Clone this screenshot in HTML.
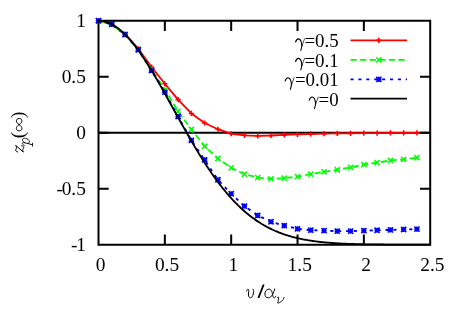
<!DOCTYPE html>
<html><head><meta charset="utf-8"><title>plot</title>
<style>html,body{margin:0;padding:0;background:#fff}svg{display:block}</style>
</head><body>
<svg width="463" height="322" viewBox="0 0 463 322">
<rect width="463" height="322" fill="#fff"/>
<g fill="none" stroke-linecap="butt" stroke-linejoin="round">
<path d="M98.50 132.78H430.20" stroke="#000" stroke-width="1.85"/>
<polyline points="98.50,20.75 111.77,24.22 125.04,34.19 138.30,48.74 151.57,67.00 164.84,83.79 178.11,99.58 191.38,113.47 204.64,122.98 217.91,129.25 231.18,133.73 244.45,135.30 257.72,135.86 270.98,135.52 284.25,134.85 297.52,134.29 310.79,133.96 324.06,133.62 337.32,133.40 350.59,133.28 363.86,133.17 377.13,133.06 390.40,132.95 403.66,132.95 416.93,132.84" stroke="#f00" stroke-width="1.85"/>
<path d="M95.90 20.75H101.10M98.50 18.15V23.35M109.17 24.22H114.37M111.77 21.62V26.82M122.44 34.19H127.64M125.04 31.59V36.79M135.70 48.74H140.90M138.30 46.14V51.34M148.97 67.00H154.17M151.57 64.40V69.60M162.24 83.79H167.44M164.84 81.19V86.39M175.51 99.58H180.71M178.11 96.98V102.18M188.78 113.47H193.98M191.38 110.87V116.07M202.04 122.98H207.24M204.64 120.38V125.58M215.31 129.25H220.51M217.91 126.65V131.85M228.58 133.73H233.78M231.18 131.13V136.33M241.85 135.30H247.05M244.45 132.70V137.90M255.12 135.86H260.32M257.72 133.26V138.46M268.38 135.52H273.58M270.98 132.92V138.12M281.65 134.85H286.85M284.25 132.25V137.45M294.92 134.29H300.12M297.52 131.69V136.89M308.19 133.96H313.39M310.79 131.36V136.56M321.46 133.62H326.66M324.06 131.02V136.22M334.72 133.40H339.92M337.32 130.80V136.00M347.99 133.28H353.19M350.59 130.68V135.88M361.26 133.17H366.46M363.86 130.57V135.77M374.53 133.06H379.73M377.13 130.46V135.66M387.80 132.95H393.00M390.40 130.35V135.55M401.06 132.95H406.26M403.66 130.35V135.55M414.33 132.84H419.53M416.93 130.24V135.44" stroke="#f00" stroke-width="1.6"/>
<polyline points="98.50,20.75 111.77,24.33 125.04,34.52 138.30,49.53 151.57,69.46 164.84,89.61 178.11,111.34 191.38,129.37 204.64,146.27 217.91,158.48 231.18,167.89 244.45,174.16 257.72,177.63 270.98,178.86 284.25,178.19 297.52,176.62 310.79,174.16 324.06,171.80 337.32,169.79 350.59,167.44 363.86,164.64 377.13,162.62 390.40,160.49 403.66,159.32 416.93,157.70" stroke="#0f0" stroke-width="1.85" stroke-dasharray="6.2 3.4"/>
<path d="M95.90 18.15L101.10 23.35M95.90 23.35L101.10 18.15M109.17 21.73L114.37 26.93M109.17 26.93L114.37 21.73M122.44 31.92L127.64 37.12M122.44 37.12L127.64 31.92M135.70 46.93L140.90 52.13M135.70 52.13L140.90 46.93M148.97 66.86L154.17 72.06M148.97 72.06L154.17 66.86M162.24 87.01L167.44 92.21M162.24 92.21L167.44 87.01M175.51 108.74L180.71 113.94M175.51 113.94L180.71 108.74M188.78 126.77L193.98 131.97M188.78 131.97L193.98 126.77M202.04 143.67L207.24 148.87M202.04 148.87L207.24 143.67M215.31 155.88L220.51 161.08M215.31 161.08L220.51 155.88M228.58 165.29L233.78 170.49M228.58 170.49L233.78 165.29M241.85 171.56L247.05 176.76M241.85 176.76L247.05 171.56M255.12 175.03L260.32 180.23M255.12 180.23L260.32 175.03M268.38 176.26L273.58 181.46M268.38 181.46L273.58 176.26M281.65 175.59L286.85 180.79M281.65 180.79L286.85 175.59M294.92 174.02L300.12 179.22M294.92 179.22L300.12 174.02M308.19 171.56L313.39 176.76M308.19 176.76L313.39 171.56M321.46 169.20L326.66 174.40M321.46 174.40L326.66 169.20M334.72 167.19L339.92 172.39M334.72 172.39L339.92 167.19M347.99 164.84L353.19 170.04M347.99 170.04L353.19 164.84M361.26 162.04L366.46 167.24M361.26 167.24L366.46 162.04M374.53 160.02L379.73 165.22M374.53 165.22L379.73 160.02M387.80 157.89L393.00 163.09M387.80 163.09L393.00 157.89M401.06 156.72L406.26 161.92M401.06 161.92L406.26 156.72M414.33 155.10L419.53 160.30M414.33 160.30L419.53 155.10" stroke="#0f0" stroke-width="1.6"/>
<polyline points="98.50,20.75 111.77,24.33 125.04,34.63 138.30,49.75 151.57,70.47 164.84,92.19 178.11,116.49 191.38,140.34 204.64,159.93 217.91,179.75 231.18,193.75 244.45,206.18 257.72,215.47 270.98,221.75 284.25,225.66 297.52,228.80 310.79,230.14 324.06,230.70 337.32,231.15 350.59,231.15 363.86,230.70 377.13,230.26 390.40,229.92 403.66,229.47 416.93,229.14" stroke="#00f" stroke-width="1.85" stroke-dasharray="3.1 4.8"/>
<path d="M95.90 20.75H101.10M98.50 18.15V23.35M95.90 18.15L101.10 23.35M95.90 23.35L101.10 18.15M109.17 24.33H114.37M111.77 21.73V26.93M109.17 21.73L114.37 26.93M109.17 26.93L114.37 21.73M122.44 34.63H127.64M125.04 32.03V37.23M122.44 32.03L127.64 37.23M122.44 37.23L127.64 32.03M135.70 49.75H140.90M138.30 47.15V52.35M135.70 47.15L140.90 52.35M135.70 52.35L140.90 47.15M148.97 70.47H154.17M151.57 67.87V73.07M148.97 67.87L154.17 73.07M148.97 73.07L154.17 67.87M162.24 92.19H167.44M164.84 89.59V94.79M162.24 89.59L167.44 94.79M162.24 94.79L167.44 89.59M175.51 116.49H180.71M178.11 113.89V119.09M175.51 113.89L180.71 119.09M175.51 119.09L180.71 113.89M188.78 140.34H193.98M191.38 137.74V142.94M188.78 137.74L193.98 142.94M188.78 142.94L193.98 137.74M202.04 159.93H207.24M204.64 157.33V162.53M202.04 157.33L207.24 162.53M202.04 162.53L207.24 157.33M215.31 179.75H220.51M217.91 177.15V182.35M215.31 177.15L220.51 182.35M215.31 182.35L220.51 177.15M228.58 193.75H233.78M231.18 191.15V196.35M228.58 191.15L233.78 196.35M228.58 196.35L233.78 191.15M241.85 206.18H247.05M244.45 203.58V208.78M241.85 203.58L247.05 208.78M241.85 208.78L247.05 203.58M255.12 215.47H260.32M257.72 212.87V218.07M255.12 212.87L260.32 218.07M255.12 218.07L260.32 212.87M268.38 221.75H273.58M270.98 219.15V224.35M268.38 219.15L273.58 224.35M268.38 224.35L273.58 219.15M281.65 225.66H286.85M284.25 223.06V228.26M281.65 223.06L286.85 228.26M281.65 228.26L286.85 223.06M294.92 228.80H300.12M297.52 226.20V231.40M294.92 226.20L300.12 231.40M294.92 231.40L300.12 226.20M308.19 230.14H313.39M310.79 227.54V232.74M308.19 227.54L313.39 232.74M308.19 232.74L313.39 227.54M321.46 230.70H326.66M324.06 228.10V233.30M321.46 228.10L326.66 233.30M321.46 233.30L326.66 228.10M334.72 231.15H339.92M337.32 228.55V233.75M334.72 228.55L339.92 233.75M334.72 233.75L339.92 228.55M347.99 231.15H353.19M350.59 228.55V233.75M347.99 228.55L353.19 233.75M347.99 233.75L353.19 228.55M361.26 230.70H366.46M363.86 228.10V233.30M361.26 228.10L366.46 233.30M361.26 233.30L366.46 228.10M374.53 230.26H379.73M377.13 227.66V232.86M374.53 227.66L379.73 232.86M374.53 232.86L379.73 227.66M387.80 229.92H393.00M390.40 227.32V232.52M387.80 227.32L393.00 232.52M387.80 232.52L393.00 227.32M401.06 229.47H406.26M403.66 226.87V232.07M401.06 226.87L406.26 232.07M401.06 232.07L406.26 226.87M414.33 229.14H419.53M416.93 226.54V231.74M414.33 226.54L419.53 231.74M414.33 231.74L419.53 226.54" stroke="#00f" stroke-width="1.6"/>
<polyline points="98.50,20.75 99.61,20.77 100.71,20.85 101.82,20.97 102.92,21.14 104.03,21.36 105.13,21.63 106.24,21.94 107.35,22.31 108.45,22.72 109.56,23.18 110.66,23.69 111.77,24.24 112.87,24.84 113.98,25.49 115.09,26.18 116.19,26.92 117.30,27.70 118.40,28.53 119.51,29.40 120.61,30.31 121.72,31.27 122.82,32.27 123.93,33.31 125.04,34.39 126.14,35.51 127.25,36.67 128.35,37.87 129.46,39.11 130.56,40.38 131.67,41.69 132.78,43.04 133.88,44.42 134.99,45.83 136.09,47.28 137.20,48.76 138.30,50.27 139.41,51.82 140.52,53.39 141.62,54.99 142.73,56.62 143.83,58.27 144.94,59.95 146.04,61.66 147.15,63.38 148.25,65.14 149.36,66.91 150.47,68.70 151.57,70.52 152.68,72.35 153.78,74.20 154.89,76.07 155.99,77.96 157.10,79.85 158.21,81.77 159.31,83.69 160.42,85.63 161.52,87.58 162.63,89.54 163.73,91.51 164.84,93.48 165.95,95.46 167.05,97.45 168.16,99.45 169.26,101.45 170.37,103.45 171.47,105.45 172.58,107.46 173.69,109.46 174.79,111.47 175.90,113.47 177.00,115.48 178.11,117.48 179.21,119.47 180.32,121.47 181.43,123.45 182.53,125.43 183.64,127.41 184.74,129.37 185.85,131.33 186.95,133.28 188.06,135.22 189.16,137.15 190.27,139.07 191.38,140.98 192.48,142.87 193.59,144.75 194.69,146.62 195.80,148.48 196.90,150.32 198.01,152.14 199.12,153.95 200.22,155.74 201.33,157.52 202.43,159.28 203.54,161.02 204.64,162.75 205.75,164.46 206.86,166.15 207.96,167.82 209.07,169.47 210.17,171.10 211.28,172.71 212.38,174.30 213.49,175.87 214.59,177.43 215.70,178.96 216.81,180.47 217.91,181.96 219.02,183.42 220.12,184.87 221.23,186.29 222.33,187.70 223.44,189.08 224.55,190.44 225.65,191.78 226.76,193.10 227.86,194.39 228.97,195.66 230.07,196.92 231.18,198.15 232.29,199.35 233.39,200.54 234.50,201.70 235.60,202.85 236.71,203.97 237.81,205.07 238.92,206.15 240.03,207.21 241.13,208.24 242.24,209.26 243.34,210.25 244.45,211.23 245.55,212.18 246.66,213.11 247.76,214.03 248.87,214.92 249.98,215.79 251.08,216.65 252.19,217.48 253.29,218.30 254.40,219.10 255.50,219.87 256.61,220.63 257.72,221.38 258.82,222.10 259.93,222.81 261.03,223.49 262.14,224.17 263.24,224.82 264.35,225.46 265.46,226.08 266.56,226.69 267.67,227.28 268.77,227.85 269.88,228.41 270.98,228.95 272.09,229.48 273.20,229.99 274.30,230.49 275.41,230.98 276.51,231.45 277.62,231.91 278.72,232.36 279.83,232.79 280.94,233.21 282.04,233.62 283.15,234.01 284.25,234.39 285.36,234.77 286.46,235.13 287.57,235.48 288.67,235.82 289.78,236.14 290.89,236.46 291.99,236.77 293.10,237.07 294.20,237.36 295.31,237.63 296.41,237.90 297.52,238.17 298.63,238.42 299.73,238.66 300.84,238.90 301.94,239.12 303.05,239.34 304.15,239.56 305.26,239.76 306.37,239.96 307.47,240.15 308.58,240.34 309.68,240.51 310.79,240.68 311.89,240.85 313.00,241.01 314.10,241.16 315.21,241.31 316.32,241.45 317.42,241.59 318.53,241.72 319.63,241.85 320.74,241.97 321.84,242.09 322.95,242.20 324.06,242.31 325.16,242.41 326.27,242.51 327.37,242.61 328.48,242.70 329.58,242.79 330.69,242.88 331.80,242.96 332.90,243.04 334.01,243.11 335.11,243.18 336.22,243.25 337.32,243.32 338.43,243.38 339.54,243.44 340.64,243.50 341.75,243.56 342.85,243.61 343.96,243.66 345.06,243.71 346.17,243.76 347.27,243.80 348.38,243.85 349.49,243.89 350.59,243.93 351.70,243.97 352.80,244.00 353.91,244.04 355.01,244.07 356.12,244.10 357.23,244.13 358.33,244.16 359.44,244.19 360.54,244.21 361.65,244.24 362.75,244.26 363.86,244.28 364.97,244.30 366.07,244.32 367.18,244.34 368.28,244.36 369.39,244.38 370.49,244.40 371.60,244.41 372.71,244.43 373.81,244.44 374.92,244.45 376.02,244.47 377.13,244.48 378.23,244.49 379.34,244.50 380.44,244.51 381.55,244.52 382.66,244.53 383.76,244.54 384.87,244.55 385.97,244.56 387.08,244.57 388.18,244.57 389.29,244.58 390.40,244.59 391.50,244.59 392.61,244.60 393.71,244.61 394.82,244.61 395.92,244.62 397.03,244.62 398.14,244.63 399.24,244.63 400.35,244.63 401.45,244.64 402.56,244.64 403.66,244.64 404.77,244.65 405.88,244.65 406.98,244.65 408.09,244.66 409.19,244.66 410.30,244.66 411.40,244.66 412.51,244.67 413.62,244.67 414.72,244.67 415.83,244.67 416.93,244.67 418.04,244.68 419.14,244.68 420.25,244.68 421.35,244.68 422.46,244.68 423.57,244.68 424.67,244.68 425.78,244.68 426.88,244.69 427.99,244.69 429.09,244.69 430.20,244.69" stroke="#000" stroke-width="1.85"/>
<path d="M350.50 40.40H407.00" stroke="#f00" stroke-width="1.85"/>
<path d="M376.20 40.40H381.40M378.80 37.80V43.00" stroke="#f00" stroke-width="1.6"/>
<path d="M350.50 59.90H407.00" stroke="#0f0" stroke-width="1.85" stroke-dasharray="6.2 3.4"/>
<path d="M376.20 57.30L381.40 62.50M376.20 62.50L381.40 57.30" stroke="#0f0" stroke-width="1.6"/>
<path d="M350.50 79.30H407.00" stroke="#00f" stroke-width="1.85" stroke-dasharray="3.1 4.8"/>
<path d="M376.20 79.30H381.40M378.80 76.70V81.90M376.20 76.70L381.40 81.90M376.20 81.90L381.40 76.70" stroke="#00f" stroke-width="1.6"/>
<path d="M350.50 98.60H407.00" stroke="#000" stroke-width="1.85"/>
<path d="M98.50 20.75H430.20V244.70H98.50ZM164.84 244.70v-10.20M164.84 20.75v10.20M231.18 244.70v-10.20M231.18 20.75v10.20M297.52 244.70v-10.20M297.52 20.75v10.20M363.86 244.70v-10.20M363.86 20.75v10.20M98.50 76.74h10.20M430.20 76.74h-10.20M98.50 132.72h10.20M430.20 132.72h-10.20M98.50 188.71h10.20M430.20 188.71h-10.20" stroke="#000" stroke-width="2" stroke-linejoin="miter"/>
</g>
<g font-family="'Liberation Serif', serif" font-size="19.4" fill="#000" style="filter:grayscale(1)">
<text x="85.9" y="27.35" text-anchor="end">1</text>
<text x="85.9" y="83.34" text-anchor="end">0.5</text>
<text x="85.9" y="139.32" text-anchor="end">0</text>
<text x="85.9" y="195.31" text-anchor="end"><tspan dy="-0.5">-</tspan><tspan dx="-1.3" dy="0.5">0.5</tspan></text>
<text x="85.9" y="251.30" text-anchor="end"><tspan dy="-0.5">-</tspan><tspan dx="-1.3" dy="0.5">1</tspan></text>
<text x="100.70" y="270.6" text-anchor="middle">0</text>
<text x="167.04" y="270.6" text-anchor="middle">0.5</text>
<text x="233.38" y="270.6" text-anchor="middle">1</text>
<text x="299.72" y="270.6" text-anchor="middle">1.5</text>
<text x="366.06" y="270.6" text-anchor="middle">2</text>
<text x="432.40" y="270.6" text-anchor="middle">2.5</text>
<text transform="translate(338.7,47.30) scale(0.975,1)" text-anchor="end">=0.5</text>
<text transform="translate(338.7,66.80) scale(0.975,1)" text-anchor="end">=0.1</text>
<text transform="translate(338.7,86.20) scale(0.975,1)" text-anchor="end">=0.01</text>
<text transform="translate(338.7,105.50) scale(0.975,1)" text-anchor="end">=0</text>
</g>
<g transform="translate(295.30,47.30)" fill="none" stroke="#000" stroke-linecap="round" stroke-linejoin="round"><path d="M0.3,-5.3 C0.9,-7.4 1.9,-8.5 3.1,-8.5 C5.0,-8.5 6.3,-5 6.6,-1.6" stroke-width="1.15"/><path d="M6.6,-1.8 C6.4,0 5.9,1.8 5.5,3.1" stroke-width="1.05"/><path d="M6.7,-1.6 C7.4,-4 8.6,-6.5 9.3,-8.5" stroke-width="0.7"/></g>
<g transform="translate(295.30,66.80)" fill="none" stroke="#000" stroke-linecap="round" stroke-linejoin="round"><path d="M0.3,-5.3 C0.9,-7.4 1.9,-8.5 3.1,-8.5 C5.0,-8.5 6.3,-5 6.6,-1.6" stroke-width="1.15"/><path d="M6.6,-1.8 C6.4,0 5.9,1.8 5.5,3.1" stroke-width="1.05"/><path d="M6.7,-1.6 C7.4,-4 8.6,-6.5 9.3,-8.5" stroke-width="0.7"/></g>
<g transform="translate(284.90,86.20)" fill="none" stroke="#000" stroke-linecap="round" stroke-linejoin="round"><path d="M0.3,-5.3 C0.9,-7.4 1.9,-8.5 3.1,-8.5 C5.0,-8.5 6.3,-5 6.6,-1.6" stroke-width="1.15"/><path d="M6.6,-1.8 C6.4,0 5.9,1.8 5.5,3.1" stroke-width="1.05"/><path d="M6.7,-1.6 C7.4,-4 8.6,-6.5 9.3,-8.5" stroke-width="0.7"/></g>
<g transform="translate(309.00,105.50)" fill="none" stroke="#000" stroke-linecap="round" stroke-linejoin="round"><path d="M0.3,-5.3 C0.9,-7.4 1.9,-8.5 3.1,-8.5 C5.0,-8.5 6.3,-5 6.6,-1.6" stroke-width="1.15"/><path d="M6.6,-1.8 C6.4,0 5.9,1.8 5.5,3.1" stroke-width="1.05"/><path d="M6.7,-1.6 C7.4,-4 8.6,-6.5 9.3,-8.5" stroke-width="0.7"/></g>
<g fill="none" stroke="#000" stroke-linecap="round" stroke-linejoin="round">
<path d="M246.6,291.0 C246.9,290 247.4,289.2 248.0,289.2 C249.3,289.1 248.4,292.5 248.5,295 C248.6,297 249.5,297.8 250.6,297.8 C252.5,297.8 253.8,293.5 253.6,290.5 C253.5,289.6 253.2,289.2 252.9,289.2" stroke-width="1.0"/>
<path d="M258.4,298 L263.7,284.5" stroke-width="1.85" stroke-linecap="butt"/>
<path d="M274.6,289.0 C273.8,292.5 271.8,297.8 268.2,297.8 C266.0,297.8 264.9,296.0 264.9,294.0 C264.9,291.3 266.8,289.1 269.0,289.1 C271.8,289.1 272.3,293.0 272.8,295.8 C273.1,297.3 273.6,297.8 274.2,297.8 C274.9,297.8 275.4,297.2 275.6,296.3" stroke-width="1.0"/>
<path d="M277.5,297.6 L278.7,297.3 L277.8,303.2 C280.5,302.5 283.6,300.5 284.1,297.4" stroke-width="0.85"/>
</g>
<g style="filter:grayscale(1)" transform="translate(23.9,153) rotate(-90)" font-family="'Liberation Serif', serif" font-size="19.4" fill="#000">
<path transform="translate(0.0,0)" fill="none" stroke="#000" stroke-linecap="round" stroke-linejoin="round" stroke-width="1.0" d="M1.0,-6.3 C1.6,-8.2 2.6,-8.6 3.8,-7.9 C5.0,-7.2 6.2,-7.0 7.6,-8.3 L1.0,-0.4 C2.2,-1.7 3.4,-1.3 4.4,-0.6 C5.6,0.3 6.8,0.0 7.3,-2.2"/>
<path transform="translate(7.1,5.4) scale(1.15)" fill="none" stroke="#000" stroke-linecap="round" stroke-linejoin="round" stroke-width="0.78" d="M0.3,-4.3 C0.8,-5.5 1.6,-6.1 2.3,-6.0 C3.0,-5.9 3.0,-5.0 2.8,-4.2 L1.0,2.7 M-0.2,2.8 L2.3,2.8 M2.7,-4.0 C3.4,-5.2 4.3,-6.0 5.2,-6.0 C6.4,-6.0 6.9,-4.9 6.6,-3.3 C6.2,-1.4 5.0,0.1 3.7,0.1 C2.8,0.1 2.2,-0.6 2.1,-1.4"/>
<text x="14.8" y="0">(</text>
<path fill="none" stroke="#000" stroke-width="1.0" stroke-linejoin="round" d="M28.35,-4.75 C30.35,-8.45 34.50,-8.45 34.50,-4.75 C34.50,-1.05 30.35,-1.05 28.35,-4.75 C26.35,-8.45 22.20,-8.45 22.20,-4.75 C22.20,-1.05 26.35,-1.05 28.35,-4.75Z"/>
<text x="35.0" y="0">)</text>
</g>
</svg>
</body></html>
